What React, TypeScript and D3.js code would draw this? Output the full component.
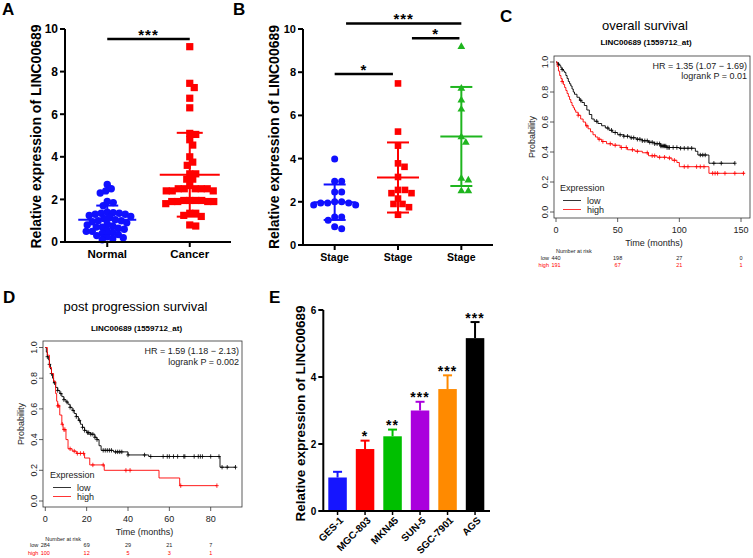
import React from "react";
import * as d3 from "d3";

const FONT = "Arial, 'Liberation Sans', Helvetica, sans-serif";

// ---------- Panel A ----------
const tissueGroups = ["Normal", "Cancer"];
const normalValues = [2.7, 2.5, 2.4, 2.3, 1.9, 1.85, 1.7, 1.4, 1.38, 1.35, 1.35, 1.3, 1.3, 1.25, 1.2, 1.15, 1.1, 1.05, 1.0, 1.0, 0.95, 0.9, 0.85, 0.8, 0.75, 0.7, 0.7, 0.65, 0.6, 0.55, 0.5, 0.5, 0.45, 0.4, 0.35, 0.3, 0.25, 0.2, 0.15, 0.1];
const cancerValues = [9.17, 7.45, 7.25, 6.75, 6.3, 5.1, 5.05, 4.8, 4.55, 4.0, 3.75, 3.6, 3.2, 3.2, 2.95, 2.95, 2.65, 2.5, 2.5, 2.5, 2.5, 2.5, 2.4, 2.4, 2.4, 1.95, 1.95, 1.95, 1.95, 1.9, 1.9, 1.9, 1.9, 1.8, 1.35, 1.35, 1.25, 1.2, 0.8, 0.75];
const scatterTicks = [0, 2, 4, 6, 8, 10];
const tissueSigY = 9.53;
const tissueSigLabel = "***";

// ---------- Panel B ----------
const stageLabels = ["Stage", "Stage", "Stage"];
const stage1Values = [3.98, 2.95, 2.95, 2.45, 2.45, 2.0, 2.0, 1.95, 1.95, 1.95, 1.85, 1.85, 1.3, 1.3, 1.15, 0.85, 0.75];
const stage2Values = [7.48, 5.25, 4.6, 3.78, 3.62, 3.15, 2.55, 2.55, 2.4, 2.4, 2.15, 1.9, 1.9, 1.75, 1.4];
const stage3Values = [9.18, 7.25, 6.7, 6.28, 5.0, 4.75, 3.08, 3.0, 2.5, 2.5];
// comparisons: from / to in category units, y in data units
const stageCompFrom = [0, 0.18, 1.22];
const stageCompTo = [0.92, 2, 1.97];
const stageCompY = [7.92, 10.26, 9.57];
const stageCompLabel = ["*", "***", "*"];

// ---------- Panel C (overall survival) ----------
const osLow: [number, number][] = [[0, 1], [1, 0.99], [2, 0.985], [3, 0.975], [4, 0.96], [5, 0.95], [6, 0.94], [7, 0.93], [8, 0.91], [9, 0.89], [10, 0.87], [11, 0.855], [12, 0.84], [13, 0.82], [14, 0.8], [15, 0.785], [17, 0.765], [19, 0.745], [21, 0.73], [23, 0.71], [25, 0.68], [27, 0.65], [29, 0.62], [31, 0.605], [34, 0.59], [37, 0.575], [40, 0.56], [43, 0.545], [46, 0.53], [50, 0.515], [55, 0.505], [60, 0.495], [65, 0.485], [70, 0.475], [75, 0.465], [80, 0.455], [85, 0.44], [90, 0.43], [100, 0.425], [113, 0.405], [115, 0.38], [124, 0.325]];
const osLowEnd = 145;
const osLowCensor = [2, 5, 20, 33, 42, 45, 48, 52, 55, 58, 61, 63, 66, 68, 70, 72, 74, 76, 78, 80, 82, 84, 85, 86, 87, 88, 89, 90, 91, 92, 95, 98, 101, 104, 107, 110, 117, 119, 121, 128, 134, 145];
const osHigh: [number, number][] = [[0, 1], [1, 0.97], [2, 0.94], [3, 0.91], [4, 0.89], [5, 0.87], [6, 0.85], [7, 0.83], [8, 0.81], [9, 0.79], [10, 0.77], [11, 0.75], [12, 0.73], [13, 0.71], [14, 0.695], [15, 0.68], [16, 0.665], [18, 0.645], [20, 0.62], [22, 0.6], [24, 0.575], [26, 0.555], [28, 0.535], [30, 0.515], [32, 0.5], [34, 0.485], [37, 0.47], [41, 0.455], [46, 0.445], [52, 0.43], [58, 0.415], [64, 0.405], [70, 0.395], [75, 0.375], [82, 0.365], [90, 0.36], [94, 0.345], [98, 0.33], [100, 0.302], [124, 0.258]];
const osHighEnd = 153;
const osHighCensor = [5, 18, 25, 35, 38, 44, 48, 53, 57, 62, 66, 74, 78, 80, 84, 88, 92, 96, 104, 107, 114, 117, 120, 127, 129, 131, 137, 145, 152];
const osTicksX = [0, 50, 100, 150];
const osRiskTimes = [0, 50, 100, 150];
const osRiskLow = [440, 198, 27, 0];
const osRiskHigh = [191, 67, 21, 1];

// ---------- Panel D (post progression survival) ----------
const ppsLow: [number, number][] = [[0, 1], [0.5, 0.97], [1, 0.94], [1.5, 0.92], [2, 0.89], [2.5, 0.86], [3, 0.83], [3.5, 0.8], [4, 0.77], [5, 0.74], [6, 0.72], [7, 0.7], [8, 0.68], [9, 0.66], [10, 0.645], [11, 0.63], [12, 0.61], [13, 0.59], [14, 0.57], [15, 0.55], [16, 0.525], [17, 0.5], [18, 0.48], [19, 0.46], [20, 0.445], [22, 0.435], [24, 0.415], [25, 0.4], [26, 0.36], [27, 0.33], [33, 0.32], [40, 0.3], [50, 0.29], [84.5, 0.22]];
const ppsLowEnd = 92;
const ppsLowCensor = [1, 2, 3, 4.5, 6, 7.5, 9, 10.5, 12, 13.5, 15, 16.5, 18, 19, 20.5, 21, 22, 23, 24, 25, 28, 29, 30, 31, 32, 34, 35, 36, 37, 40, 48, 51, 57, 59, 60, 62, 64, 67, 67.5, 72, 74, 75, 76, 80, 84, 85.5, 88, 92];
const ppsHigh: [number, number][] = [[0, 1], [1, 0.95], [2, 0.87], [3, 0.83], [4, 0.78], [5, 0.7], [5.5, 0.65], [6, 0.62], [7, 0.56], [8, 0.5], [8.6, 0.465], [10, 0.4], [11, 0.34], [13, 0.325], [15, 0.31], [19, 0.28], [21.5, 0.235], [28.5, 0.2], [55, 0.15], [65, 0.1]];
const ppsHighEnd = 83;
const ppsHighCensor = [6, 6.5, 8.2, 9, 9.5, 12, 14, 15.5, 17, 18.5, 23, 28, 39, 41, 65.5, 83];
const ppsTicksX = [0, 20, 40, 60, 80];
const ppsRiskTimes = [0, 20, 40, 60, 80];
const ppsRiskLow = [284, 69, 29, 21, 7];
const ppsRiskHigh = [100, 12, 5, 3, 1];
const probTicks = [0, 0.2, 0.4, 0.6, 0.8, 1.0];

// ---------- Panel E ----------
const cellLines = ["GES-1", "MGC-803", "MKN45", "SUN-5", "SGC-7901", "AGS"];
const cellMeans = [1.0, 1.85, 2.23, 3.0, 3.64, 5.16];
const cellErrors = [0.17, 0.25, 0.2, 0.26, 0.41, 0.48];
const cellStars = ["", "*", "**", "***", "***", "***"];
const barTicks = [0, 2, 4, 6];

const BLUE = "#1010ff";
const RED = "#ff0000";
const GREEN_B = "#1fb51f";
const cellColors = ["#1515ff", "#ff0000", "#00bf00", "#aa00dd", "#ff8a00", "#000000"];

type Pt = { x: number; y: number };

function swarm(values: number[], y: (v: number) => number, cx: number, diam: number): Pt[] {
  const placed: Pt[] = [];
  const order = values.map((v, i) => ({ v, i })).sort((a, b) => b.v - a.v);
  const out: Pt[] = new Array(values.length);
  for (const { v, i } of order) {
    const py = y(v);
    let best = 0;
    for (let k = 0; k < 400; k++) {
      const off = k === 0 ? 0 : (k % 2 ? 1 : -1) * Math.ceil(k / 2) * 0.5;
      if (placed.every((p) => (p.x - off) ** 2 + (p.y - py) ** 2 >= diam * diam)) {
        best = off;
        break;
      }
    }
    placed.push({ x: best, y: py });
    out[i] = { x: cx + best, y: py };
  }
  return out;
}

function survAt(pts: [number, number][], t: number) {
  let s = pts[0][1];
  for (const p of pts) if (p[0] <= t) s = p[1];
  return s;
}

const Stars = ({ x, y, label, size = 15 }: { x: number; y: number; label: string; size?: number }) => (
  <text x={x} y={y} textAnchor="middle" fontFamily={FONT} fontWeight="bold" fontSize={size} letterSpacing={1}>
    {label}
  </text>
);

function ScatterStats({ values, cx, y, color, mw, cw }: { values: number[]; cx: number; y: d3.ScaleLinear<number, number>; color: string; mw: number; cw: number }) {
  const m = d3.mean(values) as number;
  const sd = d3.deviation(values) as number;
  return (
    <g stroke={color} strokeWidth={2}>
      <line x1={cx - mw} x2={cx + mw} y1={y(m)} y2={y(m)} />
      <line x1={cx} x2={cx} y1={y(m - sd)} y2={y(m + sd)} />
      <line x1={cx - cw} x2={cx + cw} y1={y(m + sd)} y2={y(m + sd)} />
      <line x1={cx - cw} x2={cx + cw} y1={y(m - sd)} y2={y(m - sd)} />
    </g>
  );
}

function YAxisBold({ x, y, ticks, fontSize, x2, yBottom }: { x: number; y: d3.ScaleLinear<number, number>; ticks: number[]; fontSize: number; x2: number; yBottom: number }) {
  const top = y(d3.max(ticks) as number);
  return (
    <g>
      <line x1={x} x2={x} y1={top} y2={yBottom} stroke="#000" strokeWidth={2} />
      <line x1={x - 1} x2={x2} y1={yBottom} y2={yBottom} stroke="#000" strokeWidth={2} />
      {ticks.map((t) => (
        <g key={t}>
          <line x1={x - 5} x2={x} y1={y(t)} y2={y(t)} stroke="#000" strokeWidth={2} />
          <text x={x - 7} y={y(t)} dy="0.36em" textAnchor="end" fontFamily={FONT} fontWeight="bold" fontSize={fontSize}>
            {t}
          </text>
        </g>
      ))}
    </g>
  );
}

function KMPanel(props: {
  box: [number, number, number, number];
  x: d3.ScaleLinear<number, number>;
  y: d3.ScaleLinear<number, number>;
  low: [number, number][];
  lowEnd: number;
  lowCensor: number[];
  high: [number, number][];
  highEnd: number;
  highCensor: number[];
  xTicks: number[];
  title: string;
  titleY: number;
  subY: number;
  hr: string;
  p: string;
  hrY: number;
  legendX: number;
  legendY: number;
  riskTimes: number[];
  riskLow: number[];
  riskHigh: number[];
  riskY: number;
}) {
  const { box, x, y } = props;
  const [bx0, by0, bx1, by1] = box;
  const line = d3
    .line<[number, number]>()
    .x((d) => x(d[0]))
    .y((d) => y(d[1]))
    .curve(d3.curveStepAfter);
  const pathOf = (pts: [number, number][], end: number) => line([...pts, [end, pts[pts.length - 1][1]]]) as string;
  const censor = (pts: [number, number][], ts: number[]) =>
    ts
      .map((t) => {
        const px = x(t);
        const py = y(survAt(pts, t));
        return `M${px - 1.8},${py}h3.6M${px},${py - 2.2}v4.4`;
      })
      .join("");
  const cx = (bx0 + bx1) / 2;
  return (
    <g fontFamily={FONT}>
      <text x={cx - 7} y={props.titleY} textAnchor="middle" fontSize={13}>
        {props.title}
      </text>
      <text x={cx - 6} y={props.subY} textAnchor="middle" fontSize={8} fontWeight="bold">
        LINC00689 (1559712_at)
      </text>
      <rect x={bx0} y={by0} width={bx1 - bx0} height={by1 - by0} fill="none" stroke="#333" strokeWidth={0.8} />
      {probTicks.map((t) => (
        <g key={t}>
          <line x1={bx0 - 4} x2={bx0} y1={y(t)} y2={y(t)} stroke="#333" strokeWidth={0.8} />
          <text transform={`translate(${bx0 - 6},${y(t)}) rotate(-90)`} textAnchor="middle" fontSize={9} fill="#222">
            {t.toFixed(1)}
          </text>
        </g>
      ))}
      {props.xTicks.map((t) => (
        <g key={t}>
          <line x1={x(t)} x2={x(t)} y1={by1} y2={by1 + 4} stroke="#333" strokeWidth={0.8} />
          <text x={x(t)} y={by1 + 15} textAnchor="middle" fontSize={9} fill="#222">
            {t}
          </text>
        </g>
      ))}
      <text transform={`translate(${bx0 - 19},${(by0 + by1) / 2}) rotate(-90)`} textAnchor="middle" fontSize={9} fill="#222">
        Probability
      </text>
      <text x={cx + 2} y={by1 + 28} textAnchor="middle" fontSize={9} fill="#222">
        Time (months)
      </text>
      <path d={pathOf(props.low, props.lowEnd)} fill="none" stroke="#000" strokeWidth={0.9} />
      <path d={censor(props.low, props.lowCensor)} fill="none" stroke="#000" strokeWidth={0.8} />
      <path d={pathOf(props.high, props.highEnd)} fill="none" stroke={RED} strokeWidth={0.9} />
      <path d={censor(props.high, props.highCensor)} fill="none" stroke={RED} strokeWidth={0.8} />
      <text x={bx1 - 3} y={props.hrY} textAnchor="end" fontSize={9} fill="#222">
        {props.hr}
      </text>
      <text x={bx1 - 3} y={props.hrY + 10.5} textAnchor="end" fontSize={9} fill="#222">
        {props.p}
      </text>
      <text x={props.legendX} y={props.legendY} fontSize={9} fill="#222">
        Expression
      </text>
      <line x1={props.legendX + 3} x2={props.legendX + 21} y1={props.legendY + 9.5} y2={props.legendY + 9.5} stroke="#000" strokeWidth={0.8} />
      <text x={props.legendX + 27} y={props.legendY + 13} fontSize={9} fill="#222">
        low
      </text>
      <line x1={props.legendX + 3} x2={props.legendX + 21} y1={props.legendY + 18.5} y2={props.legendY + 18.5} stroke={RED} strokeWidth={0.8} />
      <text x={props.legendX + 27} y={props.legendY + 22} fontSize={9} fill="#222">
        high
      </text>
      <text x={x(0)} y={props.riskY} fontSize={5.5} fill="#222">
        Number at risk
      </text>
      <text x={x(0) - 7} y={props.riskY + 6.5} textAnchor="end" fontSize={5.5} fill="#222">
        low
      </text>
      <text x={x(0) - 7} y={props.riskY + 14} textAnchor="end" fontSize={5.5} fill={RED}>
        high
      </text>
      {props.riskTimes.map((t, i) => (
        <g key={t}>
          <text x={x(t)} y={props.riskY + 6.5} textAnchor="middle" fontSize={5.5} fill="#222">
            {props.riskLow[i]}
          </text>
          <text x={x(t)} y={props.riskY + 14} textAnchor="middle" fontSize={5.5} fill={RED}>
            {props.riskHigh[i]}
          </text>
        </g>
      ))}
    </g>
  );
}

export default function App() {
  // ----- Panel A -----
  const yA = d3.scaleLinear().domain([0, 10]).range([242, 29]);
  const xA = d3.scalePoint<string>().domain(tissueGroups).range([66, 231]).padding(0.5);
  const nPts = swarm(normalValues, yA, xA("Normal") as number, 5.8);
  const cPts = swarm(cancerValues, yA, xA("Cancer") as number, 6.0);

  // ----- Panel B -----
  const yB = d3.scaleLinear().domain([0, 10]).range([245, 29]);
  const stageIdx = stageLabels.map((_, i) => String(i));
  const xB = d3.scalePoint<string>().domain(stageIdx).range([303, 493]).padding(0.5);
  const stepB = xB.step();
  const posB = (f: number) => (xB("0") as number) + f * stepB;
  const s1 = swarm(stage1Values, yB, posB(0), 7.0);
  const s2 = swarm(stage2Values, yB, posB(1), 7.0);
  const s3 = swarm(stage3Values, yB, posB(2), 7.0);
  const tri = d3.symbol().type(d3.symbolTriangle).size(26)() as string;

  // ----- Panel C / D -----
  const xC = d3.scaleLinear().domain([0, 150]).range([556, 741]);
  const yC = d3.scaleLinear().domain([0, 1]).range([212, 62]);
  const xD = d3.scaleLinear().domain([0, 80]).range([45.3, 210.7]);
  const yD = d3.scaleLinear().domain([0, 1]).range([501, 347.5]);

  // ----- Panel E -----
  const yE = d3.scaleLinear().domain([0, 6]).range([511, 310]);
  const xE = d3.scaleBand<string>().domain(cellLines).range([328.3, 484.3]).paddingInner(0.327).paddingOuter(0);

  return (
    <svg width={753} height={558} style={{ position: "absolute", left: 0, top: 0, background: "#fff" }} fontFamily={FONT}>
      <rect x={0} y={0} width={753} height={558} fill="#fff" />
      {/* Panel letters */}
      <g fontFamily={FONT} fontWeight="bold" fontSize={17}>
        <text x={2} y={15}>A</text>
        <text x={233} y={15}>B</text>
        <text x={500} y={21.5}>C</text>
        <text x={3} y={303}>D</text>
        <text x={269} y={303}>E</text>
      </g>

      {/* ===== Panel A ===== */}
      <g>
        {nPts.map((p, i) => (
          <circle key={"n" + i} cx={p.x} cy={p.y} r={3.7} fill={BLUE} />
        ))}
        {cPts.map((p, i) => (
          <rect key={"c" + i} x={p.x - 3.6} y={p.y - 3.6} width={7.2} height={7.2} fill={RED} />
        ))}
        <ScatterStats values={normalValues} cx={xA("Normal") as number} y={yA} color={BLUE} mw={29} cw={11} />
        <ScatterStats values={cancerValues} cx={xA("Cancer") as number} y={yA} color={RED} mw={30} cw={13} />
        <YAxisBold x={65} y={yA} ticks={scatterTicks} fontSize={12} x2={231} yBottom={242} />
        {tissueGroups.map((g) => (
          <g key={g}>
            <line x1={xA(g)} x2={xA(g)} y1={242} y2={247} stroke="#000" strokeWidth={2} />
            <text x={xA(g)} y={258} textAnchor="middle" fontWeight="bold" fontSize={11.5}>
              {g}
            </text>
          </g>
        ))}
        <line x1={xA("Normal")} x2={xA("Cancer")} y1={yA(tissueSigY)} y2={yA(tissueSigY)} stroke="#000" strokeWidth={2.5} />
        <Stars x={((xA("Normal") as number) + (xA("Cancer") as number)) / 2} y={yA(tissueSigY) + 1} label={tissueSigLabel} />
        <text transform={`translate(41,${(yA(10) + yA(0)) / 2 + 1}) rotate(-90)`} textAnchor="middle" fontWeight="bold" fontSize={14}>
          Relative expression of LINC00689
        </text>
      </g>

      {/* ===== Panel B ===== */}
      <g>
        {s1.map((p, i) => (
          <circle key={"s1" + i} cx={p.x} cy={p.y} r={3.5} fill={BLUE} />
        ))}
        {s2.map((p, i) => (
          <rect key={"s2" + i} x={p.x - 3.3} y={p.y - 3.3} width={6.6} height={6.6} fill={RED} />
        ))}
        {s3.map((p, i) => (
          <path key={"s3" + i} d={tri} transform={`translate(${p.x},${p.y})`} fill={GREEN_B} />
        ))}
        <ScatterStats values={stage1Values} cx={posB(0)} y={yB} color={BLUE} mw={21} cw={11} />
        <ScatterStats values={stage2Values} cx={posB(1)} y={yB} color={RED} mw={21} cw={11} />
        <ScatterStats values={stage3Values} cx={posB(2)} y={yB} color={GREEN_B} mw={21} cw={11} />
        <YAxisBold x={303} y={yB} ticks={scatterTicks} fontSize={11} x2={493} yBottom={245} />
        {stageIdx.map((k, i) => (
          <g key={k}>
            <line x1={xB(k)} x2={xB(k)} y1={245} y2={250} stroke="#000" strokeWidth={2} />
            <text x={xB(k)} y={261} textAnchor="middle" fontWeight="bold" fontSize={10.5}>
              {stageLabels[i]}
            </text>
          </g>
        ))}
        {stageCompY.map((v, i) => (
          <g key={"cmp" + i}>
            <line x1={posB(stageCompFrom[i])} x2={posB(stageCompTo[i])} y1={yB(v)} y2={yB(v)} stroke="#000" strokeWidth={2.5} />
            <Stars x={(posB(stageCompFrom[i]) + posB(stageCompTo[i])) / 2} y={yB(v) + 1} label={stageCompLabel[i]} />
          </g>
        ))}
        <text transform={`translate(279,${(yB(10) + yB(0)) / 2}) rotate(-90)`} textAnchor="middle" fontWeight="bold" fontSize={14}>
          Relative expression of LINC00689
        </text>
      </g>

      {/* ===== Panel C ===== */}
      <KMPanel
        box={[554, 56, 750, 218]}
        x={xC}
        y={yC}
        low={osLow}
        lowEnd={osLowEnd}
        lowCensor={osLowCensor}
        high={osHigh}
        highEnd={osHighEnd}
        highCensor={osHighCensor}
        xTicks={osTicksX}
        title="overall survival"
        titleY={29.5}
        subY={45}
        hr="HR = 1.35 (1.07 − 1.69)"
        p="logrank P = 0.01"
        hrY={68.5}
        legendX={560}
        legendY={191}
        riskTimes={osRiskTimes}
        riskLow={osRiskLow}
        riskHigh={osRiskHigh}
        riskY={253}
      />

      {/* ===== Panel D ===== */}
      <KMPanel
        box={[43, 341, 242, 507]}
        x={xD}
        y={yD}
        low={ppsLow}
        lowEnd={ppsLowEnd}
        lowCensor={ppsLowCensor}
        high={ppsHigh}
        highEnd={ppsHighEnd}
        highCensor={ppsHighCensor}
        xTicks={ppsTicksX}
        title="post progression survival"
        titleY={310.5}
        subY={330.5}
        hr="HR = 1.59 (1.18 − 2.13)"
        p="logrank P = 0.002"
        hrY={354}
        legendX={50}
        legendY={478}
        riskTimes={ppsRiskTimes}
        riskLow={ppsRiskLow}
        riskHigh={ppsRiskHigh}
        riskY={540.5}
      />

      {/* ===== Panel E ===== */}
      <g>
        {cellLines.map((c, i) => {
          const x0 = xE(c) as number;
          const bw = xE.bandwidth();
          const cx = x0 + bw / 2;
          const top = yE(cellMeans[i]);
          const et = yE(cellMeans[i] + cellErrors[i]);
          return (
            <g key={c}>
              <line x1={cx} x2={cx} y1={top} y2={et} stroke={cellColors[i]} strokeWidth={2} />
              <line x1={cx - 4.5} x2={cx + 4.5} y1={et} y2={et} stroke={cellColors[i]} strokeWidth={2} />
              <rect x={x0} y={top} width={bw} height={yE(0) - top} fill={cellColors[i]} />
              <line x1={cx} x2={cx} y1={511} y2={515} stroke="#000" strokeWidth={1.5} />
              {cellStars[i] && <Stars x={cx} y={et + 0.5} label={cellStars[i]} size={14} />}
              <text transform={`translate(${cx + 6.5},${521}) rotate(-45)`} textAnchor="end" fontWeight="bold" fontSize={10}>
                {c}
              </text>
            </g>
          );
        })}
        <YAxisBold x={323.3} y={yE} ticks={barTicks} fontSize={10} x2={490} yBottom={511} />
        <text transform={`translate(305,${(yE(6) + yE(0)) / 2 + 3}) rotate(-90)`} textAnchor="middle" fontWeight="bold" fontSize={13.5}>
          Relative expression of LINC00689
        </text>
      </g>
    </svg>
  );
}
